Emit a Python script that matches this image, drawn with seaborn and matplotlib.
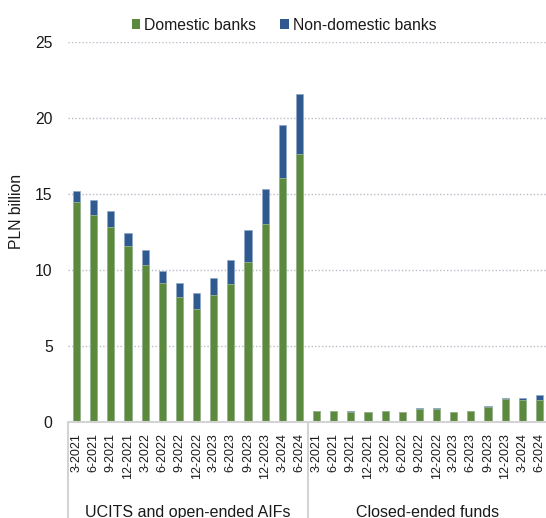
import numpy as np
import pandas as pd
import matplotlib
matplotlib.use("Agg")
import matplotlib.pyplot as plt
import matplotlib.transforms as mtransforms
from matplotlib.patches import Patch
import seaborn as sns

# Quarters shown for each fund group
quarters = ["3-2021", "6-2021", "9-2021", "12-2021", "3-2022", "6-2022", "9-2022",
            "12-2022", "3-2023", "6-2023", "9-2023", "12-2023", "3-2024", "6-2024"]
groups = ["UCITS and open-ended AIFs", "Closed-ended funds"]

# Deposits, PLN billion
ucits_domestic = [14.45, 13.6, 12.85, 11.6, 10.35, 9.15, 8.2, 7.4, 8.35, 9.05, 10.55, 13.0, 16.05, 17.65]
ucits_nondomestic = [0.75, 1.0, 1.05, 0.85, 0.95, 0.8, 0.95, 1.05, 1.1, 1.6, 2.05, 2.3, 3.45, 3.95]
closed_domestic = [0.72, 0.72, 0.68, 0.63, 0.72, 0.63, 0.86, 0.86, 0.65, 0.71, 1.01, 1.54, 1.45, 1.43]
closed_nondomestic = [0.03, 0.03, 0.05, 0.06, 0.03, 0.06, 0.04, 0.04, 0.04, 0.04, 0.04, 0.04, 0.10, 0.32]

GREEN = "#5B8A3D"
BLUE = "#2F5A8F"
FONT = ["Liberation Sans", "DejaVu Sans"]

sns.set_theme(style="white")
plt.rcParams["font.family"] = FONT
plt.rcParams["text.color"] = "#1A1A1A"

rows = []
for g, dom, nondom in [(groups[0], ucits_domestic, ucits_nondomestic),
                       (groups[1], closed_domestic, closed_nondomestic)]:
    for q, d, n in zip(quarters, dom, nondom):
        rows.append({"key": f"{g}|{q}", "group": g, "quarter": q,
                     "domestic": d, "total": d + n})
df = pd.DataFrame(rows)
order = list(df["key"])

W, H = 546, 518
fig = plt.figure(figsize=(W / 100, H / 100), dpi=100)
ax = fig.add_axes([68 / W, (H - 422) / H, 480 / W, (422 - 41.8) / H])

bar_w = 0.42
sns.barplot(data=df, x="key", y="total", order=order, color=BLUE, width=bar_w,
            saturation=1, edgecolor="#8FA6C6", linewidth=0.5, ax=ax)
sns.barplot(data=df, x="key", y="domestic", order=order, color=GREEN, width=bar_w,
            saturation=1, edgecolor="#A6BF95", linewidth=0.5, ax=ax)

ax.set_xlim(-0.5, len(order) - 0.5)
ax.set_ylim(0, 25)
ax.set_yticks([0, 5, 10, 15, 20, 25])
ax.yaxis.grid(True, color="#B9BCC9", linestyle=(0, (1, 1.5)), linewidth=1.0)
ax.set_axisbelow(True)
for s in ax.spines.values():
    s.set_visible(False)

ax.set_xticks(range(len(order)))
ax.set_xticklabels(df["quarter"], rotation=90, fontsize=9, color="#1A1A1A")
ax.tick_params(axis="x", length=0, pad=8)
ax.tick_params(axis="y", length=0, pad=11, labelsize=11.3, labelcolor="#1A1A1A")
ax.set_xlabel("")
ax.set_ylabel("PLN billion", fontsize=11.3, color="#1A1A1A")
ax.yaxis.set_label_coords((16.7 - 68) / 480, (422 - 212) / 380)
ax.yaxis.label.set_va("center")

# Category box below the axis
trans = mtransforms.blended_transform_factory(ax.transData, ax.transAxes)
bottom = -(H - 422) / 380
box_kw = dict(color="#D3D3D3", linewidth=1.5, transform=trans, clip_on=False)
ax.plot([-0.5, len(order) - 0.5], [0, 0], **box_kw)
for xv in [-0.5, len(quarters) - 0.5, len(order) - 0.5]:
    ax.plot([xv, xv], [0, bottom], **box_kw)

label_y = -(512 - 422) / 380
for i, g in enumerate(groups):
    xc = i * len(quarters) + (len(quarters) - 1) / 2
    ax.text(xc, label_y, g, transform=trans, ha="center", va="center",
            fontsize=11.5, color="#1A1A1A")

handles = [Patch(facecolor=GREEN, edgecolor="none", label="Domestic banks"),
           Patch(facecolor=BLUE, edgecolor="none", label="Non-domestic banks")]
fig.legend(handles=handles, loc="center", bbox_to_anchor=(284 / W, 1 - 25 / H),
           ncol=2, frameon=False, fontsize=11.3, handlelength=0.55, handleheight=0.55,
           handletextpad=0.25, columnspacing=1.5)

fig.savefig("out.png", dpi=100)
